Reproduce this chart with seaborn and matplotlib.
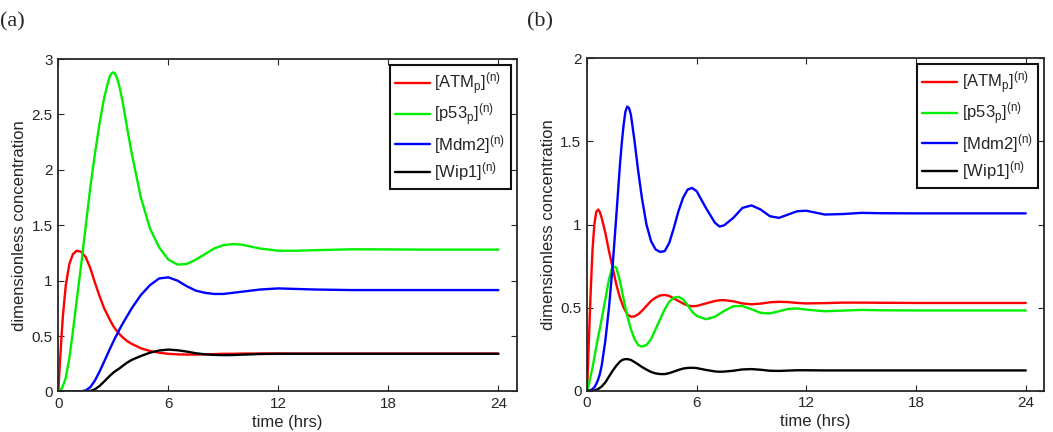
import numpy as np
import pandas as pd
import matplotlib
matplotlib.use("Agg")
import matplotlib.pyplot as plt
import seaborn as sns

# ---------------- data ----------------
series_names = ["ATM", "p53", "Mdm2", "Wip1"]
legend_labels = [r"[ATM$_\mathregular{p}$]$^\mathregular{(n)}$",
                 r"[p53$_\mathregular{p}$]$^\mathregular{(n)}$",
                 r"[Mdm2]$^\mathregular{(n)}$",
                 r"[Wip1]$^\mathregular{(n)}$"]
colors = ["#ff0000", "#00ee00", "#0000ff", "#000000"]

t_a = [0, 0.05, 0.1, 0.175, 0.25, 0.4, 0.6, 0.8, 1.0, 1.25, 1.5, 1.75, 2.0, 2.25, 2.5,
       2.65, 2.8, 2.9, 3.0, 3.1, 3.2, 3.35, 3.5, 3.75, 4.0, 4.5, 5.0, 5.5, 6.0, 6.5, 7.0,
       7.5, 8.0, 8.5, 9.0, 9.5, 10, 11, 12, 13, 14, 16, 18, 20, 22, 24]
atm_a = [0, 0.15, 0.3, 0.5, 0.68, 0.95, 1.15, 1.24, 1.27, 1.26, 1.21, 1.11, 0.98, 0.86,
         0.75, 0.7, 0.65, 0.62, 0.59, 0.565, 0.545, 0.515, 0.49, 0.455, 0.43, 0.39, 0.365,
         0.35, 0.34, 0.335, 0.333, 0.333, 0.335, 0.337, 0.34, 0.34, 0.342, 0.343, 0.343,
         0.342, 0.342, 0.342, 0.342, 0.342, 0.342, 0.342]
p53_a = [0, 0.003, 0.01, 0.025, 0.05, 0.12, 0.3, 0.55, 0.82, 1.15, 1.5, 1.85, 2.15, 2.42,
         2.65, 2.75, 2.84, 2.87, 2.88, 2.865, 2.83, 2.74, 2.62, 2.38, 2.15, 1.75, 1.47, 1.3,
         1.19, 1.145, 1.15, 1.19, 1.24, 1.29, 1.32, 1.33, 1.325, 1.29, 1.27, 1.27, 1.275,
         1.283, 1.282, 1.28, 1.28, 1.28]
mdm2_a = [0, 0, 0, 0, 0, 0, 0, 0, 0, 0.002, 0.01, 0.04, 0.1, 0.18, 0.27, 0.325, 0.38,
          0.415, 0.45, 0.485, 0.515, 0.565, 0.61, 0.68, 0.75, 0.87, 0.96, 1.02, 1.03, 1.0,
          0.95, 0.91, 0.89, 0.88, 0.88, 0.89, 0.9, 0.92, 0.93, 0.925, 0.92, 0.915, 0.915,
          0.915, 0.915, 0.915]
wip1_a = [0, 0, 0, 0, 0, 0, 0, 0, 0, 0, 0, 0.005, 0.02, 0.05, 0.09, 0.115, 0.14, 0.155,
          0.17, 0.182, 0.194, 0.21, 0.23, 0.26, 0.285, 0.32, 0.35, 0.37, 0.378, 0.372, 0.36,
          0.345, 0.335, 0.33, 0.328, 0.329, 0.332, 0.338, 0.34, 0.34, 0.34, 0.34, 0.34, 0.34,
          0.34, 0.34]

t_b = [0, 0.1, 0.2, 0.3, 0.4, 0.5, 0.6, 0.7, 0.8, 1.0, 1.2, 1.4, 1.6, 1.8, 1.9, 2.0, 2.1,
       2.2, 2.3, 2.4, 2.6, 2.8, 3.0, 3.25, 3.5, 3.75, 4.0, 4.25, 4.5, 4.75, 5.0, 5.25, 5.5,
       5.75, 6.0, 6.5, 7.0, 7.25, 7.5, 8.0, 8.5, 9.0, 9.5, 10, 10.5, 11, 11.5, 12, 13, 14,
       15, 16, 18, 20, 22, 24]
atm_b = [0, 0.3, 0.6, 0.85, 1.0, 1.075, 1.09, 1.075, 1.04, 0.95, 0.84, 0.74, 0.64, 0.56,
         0.53, 0.5, 0.48, 0.46, 0.452, 0.445, 0.447, 0.46, 0.48, 0.51,
         0.54, 0.56, 0.573, 0.576, 0.57, 0.555, 0.54, 0.525, 0.513, 0.508, 0.51,
         0.525, 0.54, 0.544, 0.545, 0.538, 0.525, 0.52, 0.524, 0.532, 0.535, 0.533, 0.528,
         0.525, 0.527, 0.53, 0.53, 0.529, 0.528, 0.528, 0.528, 0.528]
p53_b = [0, 0.04, 0.09, 0.14, 0.2, 0.26, 0.32, 0.375, 0.43, 0.55, 0.67, 0.75, 0.74, 0.66,
         0.605, 0.55, 0.5, 0.45, 0.41, 0.37, 0.31, 0.275, 0.265, 0.275,
         0.31, 0.37, 0.43, 0.49, 0.535, 0.56, 0.565, 0.55, 0.515, 0.475, 0.45,
         0.43, 0.445, 0.463, 0.48, 0.508, 0.51, 0.49, 0.468, 0.465, 0.478, 0.492, 0.495,
         0.488, 0.478, 0.482, 0.486, 0.484, 0.483, 0.483, 0.483, 0.483]
mdm2_b = [0, 0, 0.003, 0.01, 0.02, 0.04, 0.065, 0.1, 0.15, 0.3, 0.5, 0.75, 1.05, 1.36,
          1.49, 1.6, 1.68, 1.71, 1.70, 1.66, 1.5, 1.32, 1.16, 1.0,
          0.9, 0.85, 0.835, 0.84, 0.89, 0.98, 1.08, 1.16, 1.21, 1.22, 1.2,
          1.1, 1.01, 0.988, 0.995, 1.04, 1.1, 1.115, 1.09, 1.05, 1.04, 1.06, 1.08,
          1.083, 1.06, 1.063, 1.07, 1.068, 1.067, 1.067, 1.067, 1.067]
wip1_b = [0, 0, 0, 0, 0, 0.005, 0.01, 0.017, 0.025, 0.05, 0.085, 0.12, 0.15, 0.175,
          0.183, 0.188, 0.19, 0.19, 0.188, 0.185, 0.172, 0.158, 0.143, 0.127,
          0.113, 0.104, 0.1, 0.1, 0.106, 0.115, 0.125, 0.133, 0.137, 0.138, 0.136,
          0.125, 0.116, 0.114, 0.115, 0.12, 0.128, 0.13, 0.126, 0.12, 0.119, 0.121, 0.123,
          0.123, 0.122, 0.122, 0.122, 0.122, 0.122, 0.122, 0.122, 0.122]

x_ticks = [0, 6, 12, 18, 24]
y_ticks_a = [0, 0.5, 1, 1.5, 2, 2.5, 3]
y_ticks_b = [0, 0.5, 1, 1.5, 2]
y_tick_labels_a = ["0", "0.5", "1", "1.5", "2", "2.5", "3"]
y_tick_labels_b = ["0", "0.5", "1", "1.5", "2"]
x_label = "time (hrs)"
y_label = "dimensionless concentration"
panel_labels = ["(a)", "(b)"]

# ---------------- style ----------------
sns.set_style("ticks")
plt.rcParams["font.family"] = ["Liberation Sans", "DejaVu Sans"]
plt.rcParams["mathtext.fontset"] = "custom"
plt.rcParams["mathtext.rm"] = "Liberation Sans"
plt.rcParams["mathtext.it"] = "Liberation Sans:italic"


def make_df(t, arrays):
    frames = []
    for name, arr in zip(series_names, arrays):
        frames.append(pd.DataFrame({"t": t, "value": arr, "series": name}))
    return pd.concat(frames, ignore_index=True)


df_a = make_df(t_a, [atm_a, p53_a, mdm2_a, wip1_a])
df_b = make_df(t_b, [atm_b, p53_b, mdm2_b, wip1_b])

fig = plt.figure(figsize=(10.53, 4.32), dpi=100)
ax_a = fig.add_axes([0.0554, 0.0938, 0.4353, 0.7696])
ax_b = fig.add_axes([0.5575, 0.0956, 0.4340, 0.7694])

palette = dict(zip(series_names, colors))

for ax, df, yt, ytl, ymax in [(ax_a, df_a, y_ticks_a, y_tick_labels_a, 3),
                               (ax_b, df_b, y_ticks_b, y_tick_labels_b, 2)]:
    sns.lineplot(data=df, x="t", y="value", hue="series", palette=palette,
                 hue_order=series_names, linewidth=1.7, ax=ax, legend=False)
    ax.set_xlim(0, 25)
    ax.set_ylim(0, ymax)
    ax.set_xticks(x_ticks)
    ax.set_xticklabels([str(v) for v in x_ticks])
    ax.set_yticks(yt)
    ax.set_yticklabels(ytl)
    ax.tick_params(direction="in", length=4, width=0.8, labelsize=11, pad=4,
                   top=True, right=True, colors="#262626", labelcolor="#262626")
    for sp in ax.spines.values():
        sp.set_visible(True)
        sp.set_linewidth(1.3)
        sp.set_color("#262626")
    ax.set_xlabel(x_label, fontsize=12, color="#262626")
    ax.set_ylabel(y_label, fontsize=12, color="#262626")
    ax.xaxis.set_label_coords(0.5, -0.07)
    ax.yaxis.set_label_coords(-0.068, 0.5)
    handles = [plt.Line2D([], [], color=c, linewidth=1.7) for c in colors]
    leg = ax.legend(handles, legend_labels, loc="upper right", fontsize=12,
                    frameon=True, fancybox=False, framealpha=1, edgecolor="#111111",
                    borderaxespad=0.35, handlelength=2.1, handletextpad=0.25,
                    labelspacing=0.28, borderpad=0.33)
    leg.get_frame().set_linewidth(1.5)

fig.text(0.0, 0.949, panel_labels[0], fontsize=16, family="Liberation Serif",
         ha="left", va="center")
fig.text(0.5005, 0.949, panel_labels[1], fontsize=16, family="Liberation Serif",
         ha="left", va="center")

fig.savefig("out.png", dpi=100)
